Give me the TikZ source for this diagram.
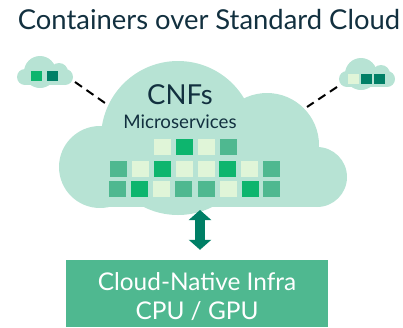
\documentclass[tikz,border=0pt]{standalone}
\usepackage{fontspec}
\setmainfont{Lato}
\usetikzlibrary{arrows.meta}
\definecolor{cloudcol}{HTML}{B7E3D4}
\definecolor{palecol}{HTML}{E0F5D8}
\definecolor{brightcol}{HTML}{0DB56E}
\definecolor{midcol}{HTML}{4FB890}
\definecolor{darkcol}{HTML}{007F66}
\definecolor{inkcol}{HTML}{12303F}
\tikzset{
  puff/.style={fill=cloudcol,draw=none},
  link/.style={line width=2pt,dash pattern=on 8.5pt off 5.5pt},
  inktext/.style={text=inkcol,inner sep=0pt},
  infrabox/.style={fill=midcol,text=white,align=center,inner sep=0pt,minimum width=262pt,minimum height=67pt,font=\fontsize{24.4}{29}\selectfont},
}
\newcommand{\sqpale}[2]{\fill[palecol] (#1,#2) rectangle ++(17,16);}
\newcommand{\sqbright}[2]{\fill[brightcol] (#1,#2) rectangle ++(17,16);}
\newcommand{\sqmid}[2]{\fill[midcol] (#1,#2) rectangle ++(17,16);}
\begin{document}
\begin{tikzpicture}[x=1pt,y=-1pt]
\useasboundingbox (0,0) rectangle (403,327);
\node[inktext,font=\fontsize{27.4}{30}\selectfont] (title) at (209,20) {Containers over Standard Cloud};
% big cloud
\fill[puff] (100,167) circle (41);
\fill[puff] (317,177) circle (30);
\fill[puff] (178,138) circle (77);
\fill[puff] (267,145) circle (52);
\fill[puff] (100,140) rectangle (317,207);
% left and right small clouds
\fill[puff] (40,72) circle (16);
\fill[puff] (59,72) circle (9);
\fill[puff] (25,77) circle (8);
\fill[puff] (65,77) circle (8);
\fill[puff] (25,72) rectangle (65,85);
\fill[puff] (361,74) circle (16);
\fill[puff] (381,74) circle (9);
\fill[puff] (347,79) circle (8);
\fill[puff] (387,79) circle (8);
\fill[puff] (347,74) rectangle (387,87);
% small boxes
\fill[brightcol] (31,71) rectangle ++(11,10);
\fill[darkcol] (47,71) rectangle ++(11,10);
\fill[palecol] (348,74) rectangle ++(11,10);
\fill[darkcol] (361,74) rectangle ++(11,10);
\fill[darkcol] (374,74) rectangle ++(11,10);
% microservice boxes
\sqpale{154}{139} \sqbright{176}{139} \sqpale{198}{139} \sqmid{220}{139}
\sqmid{110}{161} \sqpale{132}{161} \sqbright{154}{161} \sqpale{176}{161}
\sqpale{198}{161} \sqbright{219}{161} \sqpale{241}{161} \sqmid{263}{161}
\sqmid{109}{181} \sqbright{131}{181} \sqpale{153}{181} \sqmid{175}{181}
\sqmid{198}{181} \sqpale{220}{181} \sqbright{242}{181} \sqmid{263}{181}
\node[inktext,font=\fontsize{27.5}{30}\selectfont] (cnf) at (180,95) {CNFs};
\node[inktext,font=\fontsize{18.7}{20}\selectfont] (micro) at (180,122) {Microservices};
\node[infrabox] (infra) at (197,293.5) {\rule{0pt}{25pt}Cloud-Native Infra\\CPU / GPU};
\coordinate (base) at (200,210);
\coordinate (leftend) at (75,82);
\coordinate (leftcloud) at (105,103);
\coordinate (rightend) at (337,87);
\coordinate (rightcloud) at (307,107);
\draw[link] (leftend) -- (leftcloud);
\draw[link] (rightend) -- (rightcloud);
\draw[{Triangle[width=22pt,length=10pt]}-{Triangle[width=22pt,length=10pt]},line width=10pt,darkcol,shorten >=10pt] (base) -- (infra.north -| base);
\end{tikzpicture}
\end{document}
